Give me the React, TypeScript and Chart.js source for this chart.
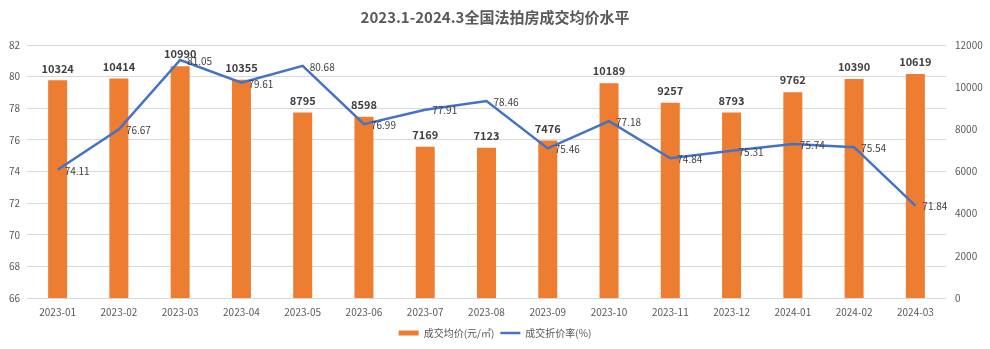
import React, { useEffect, useRef } from "react";
import { Chart, registerables } from "chart.js";

Chart.register(...registerables);

const TITLE = "2023.1-2024.3全国法拍房成交均价水平";
const categories = [
  "2023-01", "2023-02", "2023-03", "2023-04", "2023-05", "2023-06", "2023-07", "2023-08",
  "2023-09", "2023-10", "2023-11", "2023-12", "2024-01", "2024-02", "2024-03",
];
const avgPrice = [10324, 10414, 10990, 10355, 8795, 8598, 7169, 7123, 7476, 10189, 9257, 8793, 9762, 10390, 10619];
const discountRate = [74.11, 76.67, 81.05, 79.61, 80.68, 76.99, 77.91, 78.46, 75.46, 77.18, 74.84, 75.31, 75.74, 75.54, 71.84];
const priceLabel = "成交均价(元/㎡)";
const rateLabel = "成交折价率(%)";

const FONT = "'Noto Sans CJK SC', 'Noto Sans', sans-serif";
const ORANGE = "#ED7D31";
const BLUE = "#4472C4";
const GRID = "#D9D9D9";
const TICK = "#595959";
const LABEL = "#404040";

const labelPlugin = {
  id: "valueLabels",
  afterDatasetsDraw(chart: any) {
    const ctx = chart.ctx;
    ctx.save();
    const barMeta = chart.getDatasetMeta(0);
    ctx.fillStyle = LABEL;
    ctx.font = `bold 11px ${FONT}`;
    ctx.textAlign = "center";
    ctx.textBaseline = "middle";
    barMeta.data.forEach((el: any, i: number) => {
      ctx.fillText(String(avgPrice[i]), el.x, el.y - 12);
    });
    const lineMeta = chart.getDatasetMeta(1);
    ctx.font = `10px ${FONT}`;
    ctx.textAlign = "left";
    lineMeta.data.forEach((el: any, i: number) => {
      ctx.fillText(discountRate[i].toFixed(2), el.x + 7, el.y + 1);
    });
    ctx.restore();
  },
};

export default function App() {
  const ref = useRef<HTMLCanvasElement>(null);
  useEffect(() => {
    if (!ref.current) return;
    const chart = new Chart(ref.current, {
      type: "bar",
      data: {
        labels: categories,
        datasets: [
          {
            type: "bar",
            label: priceLabel,
            data: avgPrice,
            backgroundColor: ORANGE,
            yAxisID: "y1",
            order: 2,
            categoryPercentage: 1,
            barPercentage: 0.31,
          } as any,
          {
            type: "line",
            label: rateLabel,
            data: discountRate,
            borderColor: BLUE,
            backgroundColor: BLUE,
            borderWidth: 2.5,
            pointRadius: 0,
            tension: 0,
            yAxisID: "y",
            order: 1,
          } as any,
        ],
      },
      options: {
        responsive: false,
        animation: false,
        layout: { padding: { left: 0, right: 0, top: 0, bottom: 1 } },
        plugins: {
          title: {
            display: true,
            text: TITLE,
            color: TICK,
            font: { family: FONT, size: 15, weight: "bold" },
            padding: { top: 8, bottom: 19 },
          },
          legend: {
            position: "bottom",
            labels: {
              font: { family: FONT, size: 10 },
              color: TICK,
              usePointStyle: true,
              boxHeight: 5,
              pointStyleWidth: 20,
              padding: 6,
              generateLabels() {
                return [
                  {
                    text: priceLabel,
                    fillStyle: ORANGE,
                    strokeStyle: ORANGE,
                    lineWidth: 0,
                    pointStyle: "rect",
                    datasetIndex: 0,
                    fontColor: TICK,
                  },
                  {
                    text: rateLabel,
                    fillStyle: BLUE,
                    strokeStyle: BLUE,
                    lineWidth: 2.5,
                    pointStyle: "line",
                    datasetIndex: 1,
                    fontColor: TICK,
                  },
                ];
              },
            },
          },
          tooltip: { enabled: false },
        },
        scales: {
          x: {
            grid: { display: false, drawTicks: false },
            border: { display: false },
            ticks: { font: { family: FONT, size: 10 }, color: TICK, padding: 8, maxRotation: 0 },
            afterFit(s: any) {
              s.height = 24;
            },
          },
          y: {
            position: "left",
            min: 66,
            max: 82,
            ticks: { stepSize: 2, font: { family: FONT, size: 10 }, color: TICK, padding: 7 },
            grid: { color: GRID, drawTicks: false },
            border: { display: false },
            afterFit(s: any) {
              s.width = 27;
            },
          },
          y1: {
            position: "right",
            min: 0,
            max: 12000,
            ticks: {
              stepSize: 2000,
              font: { family: FONT, size: 10 },
              color: TICK,
              padding: 9,
              callback: (v: any) => String(v),
            },
            grid: { display: false, drawTicks: false },
            border: { display: false },
            afterFit(s: any) {
              s.width = 44;
            },
          },
        },
      } as any,
      plugins: [labelPlugin],
    });
    return () => chart.destroy();
  }, []);
  return (
    <div style={{ position: "fixed", left: 0, top: 0, width: 990, height: 349, background: "#fff" }}>
      <canvas ref={ref} width={990} height={349} style={{ display: "block" }} />
    </div>
  );
}
